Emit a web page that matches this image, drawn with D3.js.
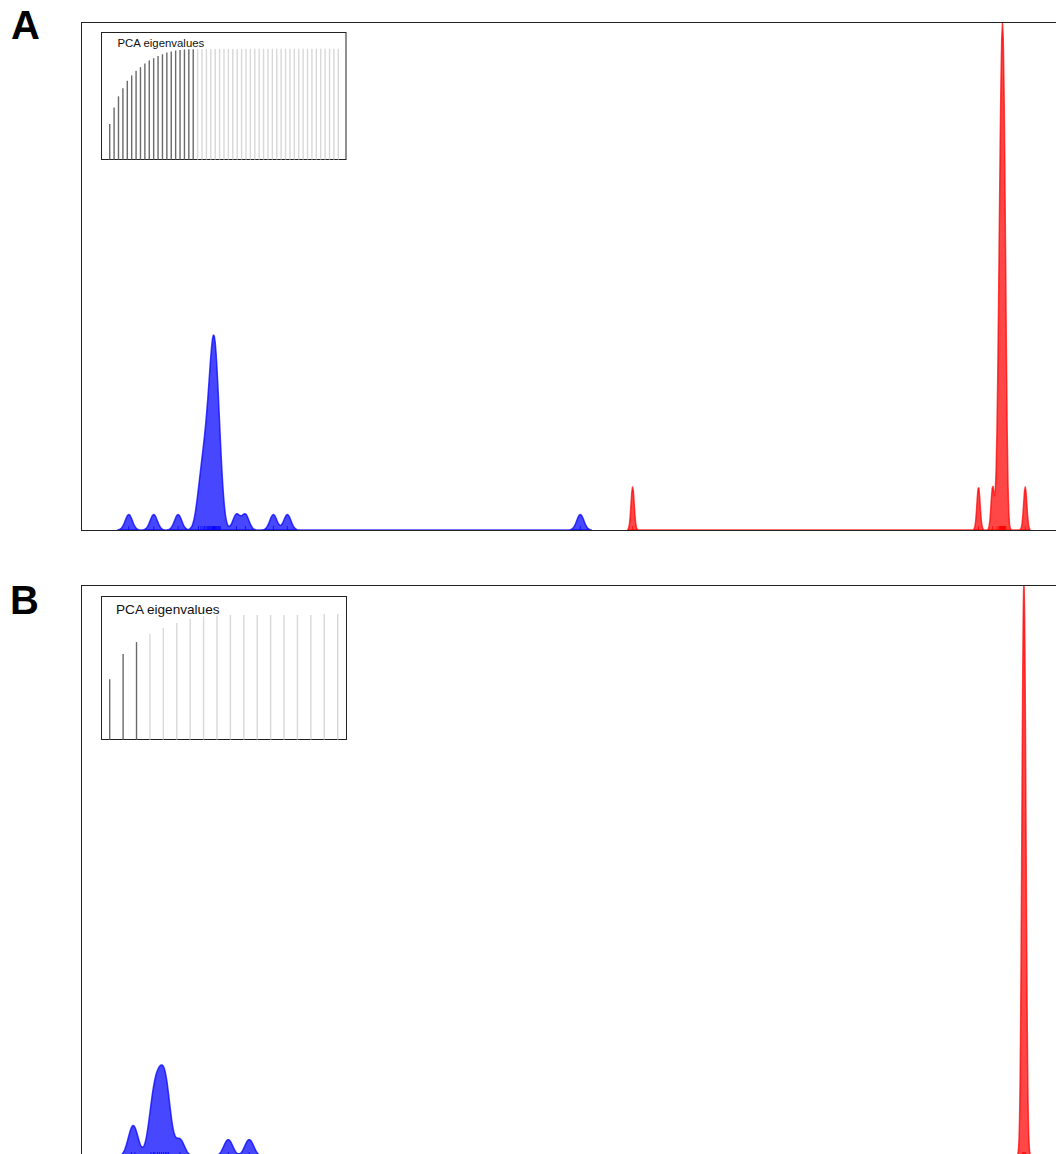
<!DOCTYPE html>
<html>
<head>
<meta charset="utf-8">
<script src="https://cdn.jsdelivr.net/npm/d3@7"></script>
<style>
  body { margin: 0; background: #fff; }
  svg { display: block; }
</style>
</head>
<body>
<svg id="fig" width="1056" height="1154"></svg>
<script>
// ---- Discriminant function scores (one value per individual) ----
// Panel A
const scoresA_pop1 = [-5.896, -5.584, -5.279, -5.025, -4.994, -4.969, -4.950, -4.931, -4.913,
  -4.900, -4.888, -4.875, -4.863, -4.850, -4.844, -4.838, -4.835, -4.831, -4.825, -4.819,
  -4.813, -4.800, -4.788, -4.775, -4.763, -4.750, -4.550, -4.438, -4.088, -3.913, -0.250];
const scoresA_pop2 = [0.404, 4.729, 4.906, 4.9625, 4.985, 4.990, 4.995, 5.000, 5.005, 5.010,
  5.015, 5.020, 5.025, 5.0275, 5.030, 5.0325, 5.035, 5.040, 5.045, 5.050, 5.055, 5.060,
  5.065, 5.070, 5.313];
const bandwidthA = [0.045, 0.020];

// Panel B
const scoresB_pop1 = [-5.856, -5.813, -5.613, -5.581, -5.563, -5.531, -5.506, -5.481, -5.456,
  -5.431, -5.413, -5.394, -5.250, -4.646, -4.384];
const scoresB_pop2 = [5.282, 5.296, 5.306, 5.321];
const bandwidthB = [0.05625, 0.01875];

// ---- PCA eigenvalues (cumulative proportion of variance) ----
const eigA = [0.320, 0.470, 0.570, 0.644, 0.710, 0.759, 0.800, 0.833, 0.867, 0.894, 0.914,
  0.935, 0.950, 0.966, 0.975, 0.984, 0.989, 0.993, 0.995,
  0.996, 0.996, 0.997, 0.997, 0.997, 0.997, 0.998, 0.998, 0.998, 0.998, 0.998, 0.999, 0.999,
  0.999, 0.999, 0.999, 0.999, 0.999, 0.999, 1.000, 1.000, 1.000, 1.000, 1.000, 1.000, 1.000,
  1.000, 1.000, 1.000, 1.000, 1.000, 1.000, 1.000, 1.000];
const retainedA = 20;
const eigB = [0.481, 0.682, 0.776, 0.840, 0.888, 0.928, 0.963, 0.982, 0.990, 0.992, 0.992,
  0.992, 0.992, 0.992, 0.992, 0.992, 1.000, 1.000];
const retainedB = 3;

const popColors = ["rgba(0,0,255,0.72)", "rgba(255,0,0,0.72)"];
const panelLabels = ["A", "B"];
const insetTitle = "PCA eigenvalues";

const svg = d3.select("#fig");

// Gaussian kernel density, evaluated like R's density(): 512 points over
// [min - 3*bw, max + 3*bw]
function kde(scores, bw) {
  const n = 512;
  const lo = d3.min(scores) - 3 * bw, hi = d3.max(scores) + 3 * bw;
  const k = 1 / (scores.length * bw * Math.sqrt(2 * Math.PI));
  return d3.range(n).map(i => {
    const x = lo + (hi - lo) * i / (n - 1);
    const y = k * d3.sum(scores, s => Math.exp(-0.5 * ((x - s) / bw) ** 2));
    return { x, y };
  });
}

function densityPanel(id, groups, frame) {
  const g = svg.append("g");
  const dens = groups.map(gr => kde(gr.scores, gr.bw));
  const all = dens.flat();
  const [x0, x1] = d3.extent(all, d => d.x);
  const pad = 0.04 * (x1 - x0);
  const x = d3.scaleLinear().domain([x0 - pad, x1 + pad]).range([frame.left, frame.right]);
  const y = d3.scaleLinear().domain([0, d3.max(all, d => d.y)]).range([frame.base, frame.top]);

  g.append("clipPath").attr("id", id)
    .append("rect")
    .attr("x", frame.left).attr("y", frame.top)
    .attr("width", frame.right - frame.left).attr("height", frame.base - frame.top + 0.6);

  const plot = g.append("g").attr("clip-path", `url(#${id})`);
  const area = d3.area().x(d => x(d.x)).y0(y(0)).y1(d => y(d.y));

  groups.forEach((gr, i) => {
    plot.append("path")
      .datum(dens[i])
      .attr("d", area)
      .attr("fill", gr.color)
      .attr("stroke", gr.color)
      .attr("stroke-width", 1.5)
      .attr("stroke-linejoin", "round");
    plot.append("g").selectAll("line")
      .data(gr.scores)
      .join("line")
      .attr("x1", d => x(d)).attr("x2", d => x(d))
      .attr("y1", y(0) + 4).attr("y2", y(0) - 4)
      .attr("stroke", gr.color)
      .attr("stroke-width", 1);
  });

  g.append("rect")
    .attr("x", frame.left).attr("y", frame.top)
    .attr("width", frame.right - frame.left).attr("height", frame.boxBottom - frame.top)
    .attr("fill", "none").attr("stroke", "#222").attr("stroke-width", 1);
}

function eigenInset(values, retained, box) {
  const g = svg.append("g");
  g.append("rect")
    .attr("x", box.x).attr("y", box.y).attr("width", box.w).attr("height", box.h)
    .attr("fill", "#fff").attr("stroke", "#222").attr("stroke-width", 1);
  const x = d3.scaleLinear().domain([0, values.length - 1]).range([box.first, box.last]);
  const y = d3.scaleLinear().domain([0, 1]).range([box.barBase, box.barTop]);
  g.selectAll("line.bar")
    .data(values)
    .join("line")
    .attr("class", "bar")
    .attr("x1", (d, i) => x(i)).attr("x2", (d, i) => x(i))
    .attr("y1", y(0)).attr("y2", d => y(d))
    .attr("stroke", (d, i) => i < retained ? "#6a6a6a" : "#d8d8d8")
    .attr("stroke-width", 1.4);
  g.append("text")
    .attr("x", box.tx).attr("y", box.ty)
    .attr("font-family", "'Liberation Sans', Arial, sans-serif")
    .attr("font-size", box.fs)
    .attr("fill", "#111")
    .text(insetTitle);
}

// Panel A
densityPanel("clipA", [
  { scores: scoresA_pop1, bw: bandwidthA[0], color: popColors[0] },
  { scores: scoresA_pop2, bw: bandwidthA[1], color: popColors[1] }
], { left: 81.5, right: 1066.5, top: 22.5, base: 530, boxBottom: 530.5 });
eigenInset(eigA, retainedA, {
  x: 101.5, y: 32.5, w: 244.5, h: 127, first: 109.7, last: 338.3,
  barBase: 159.5, barTop: 48.7, tx: 117.5, ty: 47, fs: 11.4
});

// Panel B
densityPanel("clipB", [
  { scores: scoresB_pop1, bw: bandwidthB[0], color: popColors[0] },
  { scores: scoresB_pop2, bw: bandwidthB[1], color: popColors[1] }
], { left: 81.5, right: 1066.5, top: 585.5, base: 1156, boxBottom: 1157 });
eigenInset(eigB, retainedB, {
  x: 101.5, y: 596.5, w: 245, h: 143, first: 109.7, last: 337.7,
  barBase: 739.5, barTop: 614, tx: 116, ty: 613.7, fs: 13.6
});

// Panel letters
svg.selectAll("text.panel")
  .data(panelLabels)
  .join("text")
  .attr("class", "panel")
  .attr("x", (d, i) => i === 0 ? 11 : 10)
  .attr("y", (d, i) => i === 0 ? 39 : 614)
  .attr("font-family", "'Liberation Sans', Arial, sans-serif")
  .attr("font-weight", 700)
  .attr("font-size", 40)
  .attr("fill", "#000")
  .text(d => d);
</script>
</body>
</html>
